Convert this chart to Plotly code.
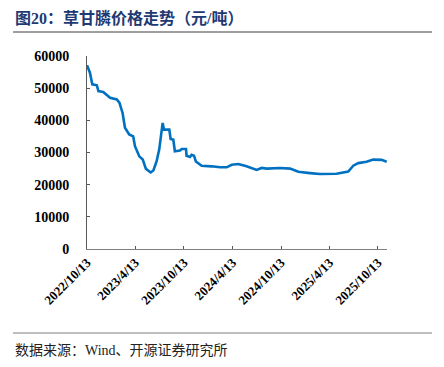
import plotly.graph_objects as go

dates = ["2022-10-13","2022-10-24","2022-11-02","2022-11-19","2022-11-25","2022-12-13",
         "2023-01-08","2023-02-02","2023-02-12","2023-02-24","2023-03-05","2023-03-21",
         "2023-04-05","2023-04-12","2023-04-28","2023-05-11","2023-05-23","2023-06-10",
         "2023-06-20","2023-07-02","2023-07-12","2023-07-19","2023-07-25","2023-07-30",
         "2023-08-19","2023-08-24","2023-09-03","2023-09-09","2023-09-28","2023-10-05",
         "2023-10-21","2023-10-23","2023-11-05","2023-11-11","2023-11-20","2023-11-27",
         "2023-12-19","2024-01-26","2024-02-26","2024-03-22","2024-04-10","2024-05-05",
         "2024-06-05","2024-07-13","2024-08-01","2024-08-20","2024-10-09","2024-11-16",
         "2024-12-17","2025-01-30","2025-03-08","2025-05-10","2025-06-23","2025-07-12",
         "2025-07-31","2025-08-31","2025-09-25","2025-10-27","2025-11-15"]
prices = [57100,54800,51200,50900,49100,48800,
          47000,46500,45500,42300,37700,35600,
          35000,31900,28800,27800,24900,23800,
          24400,27200,30900,35000,39200,37100,
          37100,34200,34000,30400,30600,31100,
          31100,29000,28600,29300,29000,27200,
          25900,25700,25400,25400,26200,26400,
          25700,24600,25200,25000,25200,25000,
          24000,23600,23300,23400,24100,25900,
          26700,27100,27800,27700,27100]

x_tick_vals = ["2022-10-13","2023-04-13","2023-10-13","2024-04-13","2024-10-13","2025-04-13","2025-10-13"]
x_tick_text = ["2022/10/13","2023/4/13","2023/10/13","2024/4/13","2024/10/13","2025/4/13","2025/10/13"]
y_tick_vals = [0,10000,20000,30000,40000,50000,60000]
y_tick_text = ["0","10000","20000","30000","40000","50000","60000"]

title_text = "图20：草甘膦价格走势（元/吨）"
source_text = "数据来源：Wind、开源证券研究所"

fig = go.Figure()
fig.add_trace(go.Scatter(x=dates, y=prices, mode="lines",
                         line=dict(color="#0070C0", width=2.6), hoverinfo="skip"))

OFF = 8  # page body margin
W, H = 444 - OFF, 367 - OFF
L, R, T, B = 87 - OFF, 387 - OFF, 56 - OFF, 249 - OFF
pw, ph = R - L, B - T

def px(x):
    return (x - OFF - L) / pw

def py(y):
    return (B - (y - OFF)) / ph

serif = "Liberation Serif, Times New Roman, serif"

fig.update_layout(
    width=W, height=H,
    margin=dict(l=L, r=W - R, t=T, b=H - B, autoexpand=False),
    paper_bgcolor="white", plot_bgcolor="white",
    showlegend=False,
    xaxis=dict(type="date", range=["2022-10-13", "2025-11-16"],
               tickvals=x_tick_vals, ticktext=x_tick_text, tickangle=-45,
               ticks="inside", ticklen=3, tickcolor="#595959",
               showline=True, linecolor="#7f7f7f", linewidth=1,
               showgrid=False, zeroline=False, automargin=False,
               tickfont=dict(family=serif, size=13, color="#000000", weight="bold")),
    yaxis=dict(range=[0, 60000], tickvals=y_tick_vals, ticktext=y_tick_text,
               ticks="inside", ticklen=3, tickcolor="#595959",
               showline=True, linecolor="#595959", linewidth=1,
               showgrid=False, zeroline=False, ticklabelstandoff=14, automargin=False,
               tickfont=dict(family=serif, size=14, color="#000000", weight="bold")),
    shapes=[
        dict(type="line", xref="paper", yref="paper", x0=px(13), x1=px(432), y0=py(32), y1=py(32),
             line=dict(color="#7f7f7f", width=1.5)),
        dict(type="line", xref="paper", yref="paper", x0=px(13), x1=px(432), y0=py(333), y1=py(333),
             line=dict(color="#7f7f7f", width=1)),
    ],
    annotations=[
        dict(text="<b>" + title_text + "</b>", xref="paper", yref="paper", x=px(13), y=py(18),
             xanchor="left", yanchor="middle", showarrow=False,
             font=dict(family="Liberation Serif, Noto Sans CJK SC", size=16, color="#1F3A73")),
        dict(text=source_text, xref="paper", yref="paper", x=px(13), y=py(350),
             xanchor="left", yanchor="middle", showarrow=False,
             font=dict(family="Liberation Serif, Noto Sans CJK SC", size=14, color="#222222")),
    ],
)

fig.write_html("out.html")
